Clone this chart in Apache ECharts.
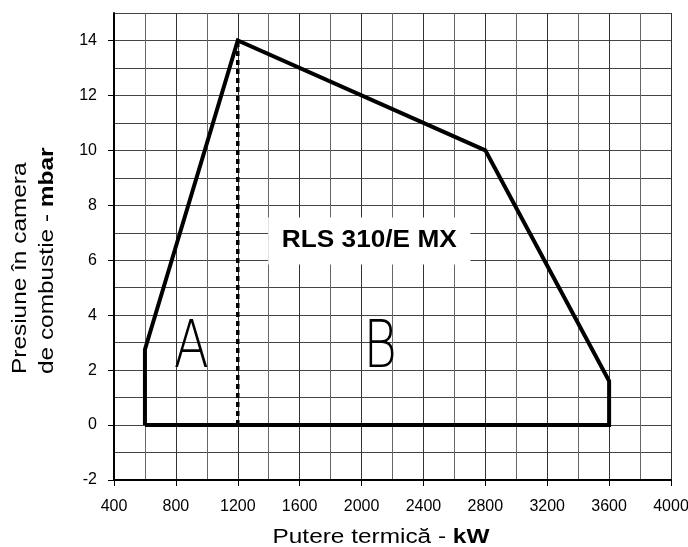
<!DOCTYPE html>
<html lang="ro">
<head>
<meta charset="UTF-8">
<title>RLS 310/E MX</title>
<style>
  html, body, #main { width: 100%; height: 100%; margin: 0; padding: 0; background: #fff; }
</style>
<script src="https://cdn.jsdelivr.net/npm/echarts@6/dist/echarts.min.js"></script>
</head>
<body>
<div id="main"></div>
<script>
  // working field outline (kW, mbar)
  const outlineX = [600, 600, 1200, 2800, 3600, 3600, 600];
  const outlineY = [0, 2.75, 14, 10, 1.6, 0, 0];
  // dashed split between zone A and B
  const splitX = [1200, 1200];
  const splitY = [0, 14];
  // zone letters
  const zoneNames = ['A', 'B'];
  const zoneX = [900, 2120];
  const zoneY = [2.75, 2.75];
  // model label
  const modelName = 'RLS 310/E MX';
  const modelAt = [2050, 6.7];
  // labelled y ticks (grid runs every 1 mbar)
  const yTickValues = [-2, 0, 2, 4, 6, 8, 10, 12, 14];

  const tickFont = 'Liberation Sans';
  const chart = echarts.init(document.getElementById('main'));

  const option = {
    animation: false,
    grid: { left: 114, right: 17, top: 13, bottom: 67, outerBoundsMode: 'none', containLabel: false },
    xAxis: {
      type: 'value', min: 400, max: 4000, interval: 400,
      axisLine: { onZero: false, lineStyle: { color: '#000', width: 2 } },
      axisTick: { show: true, length: 6, lineStyle: { color: '#000' } },
      minorTick: { show: false, splitNumber: 2 },
      axisLabel: { fontFamily: tickFont, fontSize: 16, color: '#000', margin: 19, formatter: v => String(v) },
      splitLine: { lineStyle: { color: '#333', width: 1 } },
      minorSplitLine: { show: true, lineStyle: { color: '#666', width: 1 } }
    },
    yAxis: [
      {
        type: 'value', min: -2, max: 15, interval: 1,
        axisLine: { show: true, onZero: false, lineStyle: { color: '#000', width: 2 } },
        axisTick: { show: true, length: 6, customValues: yTickValues, lineStyle: { color: '#000' } },
        axisLabel: {
          fontFamily: tickFont, fontSize: 16, color: '#000', margin: 17,
          customValues: yTickValues, formatter: v => String(v)
        },
        splitLine: { show: false },
        z: 3
      },
      {
        // grid lines only
        type: 'value', min: -2, max: 15, interval: 1, position: 'left',
        axisLine: { show: false },
        axisTick: { show: false },
        axisLabel: { show: false },
        splitLine: { show: true, lineStyle: { color: '#444', width: 1 } }
      }
    ],
    graphic: [
      {
        type: 'text',
        x: 34, y: 374,
        rotation: Math.PI / 2,
        scaleX: 1.22,
        style: {
          text: '{n|Presiune în camera}\n{n|de combustie - }{b|mbar}',
          align: 'left', verticalAlign: 'middle',
          rich: {
            n: { fontFamily: 'Liberation Sans', fontSize: 20, color: '#000', lineHeight: 27 },
            b: { fontFamily: 'Liberation Sans', fontSize: 20, fontWeight: 'bold', color: '#000', lineHeight: 27 }
          }
        }
      },
      {
        type: 'text',
        x: 381, y: 537,
        scaleX: 1.22,
        style: {
          text: '{n|Putere termică - }{b|kW}',
          align: 'center', verticalAlign: 'middle',
          rich: {
            n: { fontFamily: 'Liberation Sans', fontSize: 20, color: '#000' },
            b: { fontFamily: 'Liberation Sans', fontSize: 20, fontWeight: 'bold', color: '#000' }
          }
        }
      }
    ],
    series: [
      {
        type: 'line', yAxisIndex: 0,
        data: outlineX.map((x, i) => [x, outlineY[i]]),
        symbol: 'none',
        lineStyle: { color: '#000', width: 4, join: 'miter' },
        z: 5
      },
      {
        type: 'line', yAxisIndex: 0,
        data: splitX.map((x, i) => [x, splitY[i]]),
        symbol: 'none',
        lineStyle: { color: '#000', width: 3.5, type: [5, 4] },
        z: 4
      },
      {
        type: 'custom', yAxisIndex: 0,
        data: zoneNames.map((n, i) => [zoneX[i], zoneY[i]]),
        renderItem: function (params, api) {
          const p = api.coord([api.value(0), api.value(1)]);
          return {
            type: 'text', x: p[0], y: p[1], scaleX: 0.78,
            style: {
              text: zoneNames[params.dataIndex],
              fontFamily: 'DejaVu Sans', fontWeight: 200, fontSize: 66,
              fill: '#000', align: 'center', verticalAlign: 'middle'
            }
          };
        },
        z: 6
      },
      {
        type: 'custom', yAxisIndex: 0,
        data: [modelAt],
        renderItem: function (params, api) {
          const p = api.coord([api.value(0), api.value(1)]);
          return {
            type: 'text', x: p[0], y: p[1], scaleX: 1.14,
            style: {
              text: modelName,
              fontFamily: 'Liberation Sans', fontWeight: 'bold', fontSize: 23,
              fill: '#000', align: 'center', verticalAlign: 'middle',
              backgroundColor: '#fff', padding: [12, 12]
            }
          };
        },
        z: 6
      }
    ]
  };

  chart.setOption(option);
</script>
</body>
</html>
